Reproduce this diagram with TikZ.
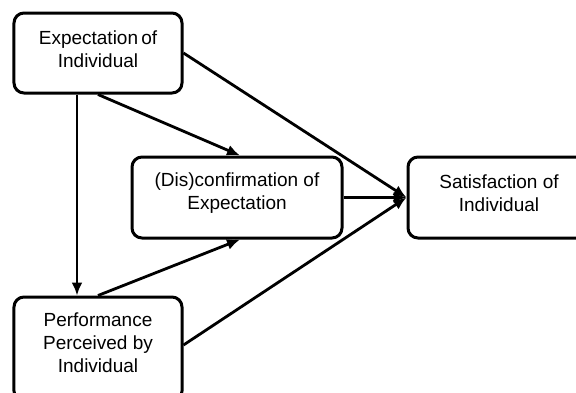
\documentclass[tikz,border=0pt]{standalone}
\usepackage{fontspec}
\setmainfont{Liberation Sans}
\usetikzlibrary{arrows.meta}
\begin{document}
\begin{tikzpicture}[x=1bp,y=-1bp,
  box/.style={draw=black, line width=3bp, rounded corners=10bp, fill=white, inner sep=0pt},
  txt/.style={align=center, font=\fontsize{19bp}{23bp}\selectfont, text=black, yshift=4bp},
  conn/.style={line width=2.8bp, -{Latex[length=13bp,width=11bp]}}]
  \useasboundingbox (0,0) rectangle (576,392);
  \clip (0,0) rectangle (576,392);

  % four boxes, text placed as centred labels
  \node[box, minimum width=168bp, minimum height=80bp,
        label={[txt]center:{Expectation\,of\\Individual}}] (exp) at (98,53) {};
  \node[box, minimum width=210bp, minimum height=81bp,
        label={[txt]center:{(Dis)confirmation of\\Expectation}}] (dis) at (237,197.5) {};
  \node[box, minimum width=168bp, minimum height=104bp,
        label={[txt, yshift=2bp]center:{Performance\\Perceived by\\Individual}}] (perf) at (98,349) {};
  \node[box, minimum width=182bp, minimum height=81bp,
        label={[txt]center:{Satisfaction of\\Individual}}] (sat) at (499,197.5) {};

  % connectors
  \draw[conn] ([xshift=-21bp]exp.south) -- ([xshift=-21bp]perf.north);
  \draw[conn] (exp.south) -- ([xshift=3bp]dis.north);
  \draw[conn] (perf.north) -- ([xshift=3bp]dis.south);
  \draw[conn] (exp.east) -- (sat.west);
  \draw[conn] (dis.east) -- (sat.west);
  \draw[conn] ([yshift=4bp]perf.east) -- (sat.west);
\end{tikzpicture}
\end{document}
